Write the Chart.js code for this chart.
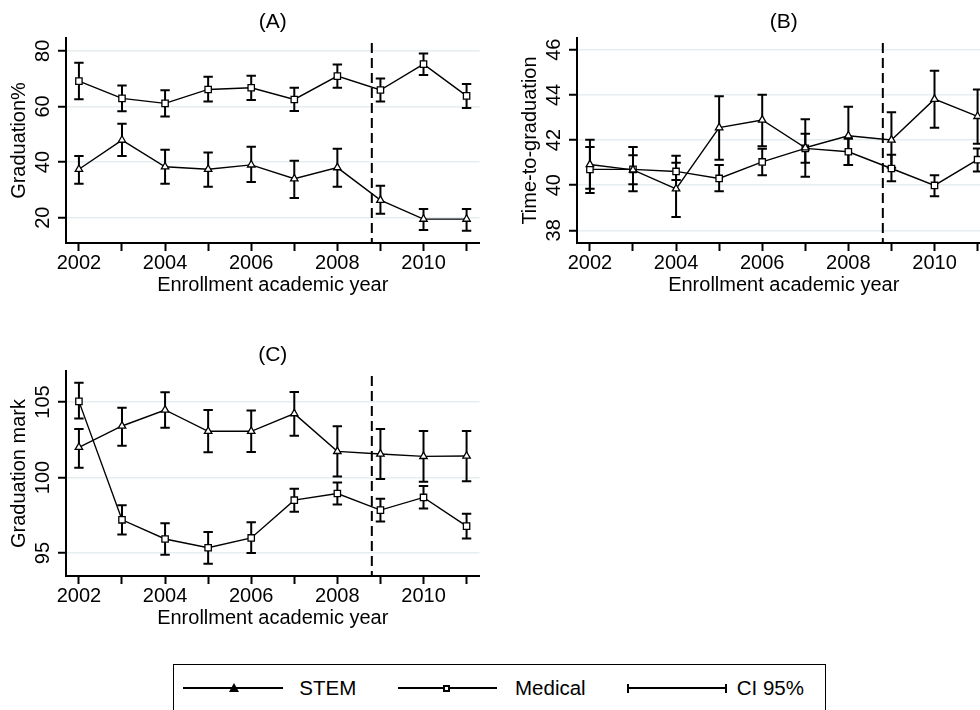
<!DOCTYPE html>
<html>
<head>
<meta charset="utf-8">
<script src="https://cdn.jsdelivr.net/npm/chart.js@4"></script>
<style>
  body { margin: 0; background: #fff; overflow: hidden; }
  #page { position: relative; width: 980px; height: 710px; overflow: hidden; background: #fff; }
  #page canvas { position: absolute; }
  .lg { position: absolute; }
  .lg-box { left: 172.7px; top: 664px; width: 653px; height: 60px; border: 1px solid #000; box-sizing: border-box; }
  .lg-line { height: 2px; top: 687.3px; background: #000; }
  .lg-text { font: 20.5px "Liberation Sans", Arial, sans-serif; line-height: 20.5px; top: 678px; color: #000; white-space: nowrap; }
</style>
</head>
<body>
<div id="page">
  <canvas id="panelA" width="490" height="300" style="left:0;top:0"></canvas>
  <canvas id="panelB" width="490" height="300" style="left:511px;top:0"></canvas>
  <canvas id="panelC" width="490" height="300" style="left:0;top:333px"></canvas>

  <div class="lg lg-box"></div>
  <div class="lg lg-line" style="left:182.7px;width:100px"></div>
  <div class="lg" style="left:228.5px;top:683.3px;width:0;height:0;border-left:5.5px solid transparent;border-right:5.5px solid transparent;border-bottom:9px solid #000"></div>
  <div class="lg lg-text" style="left:299.3px">STEM</div>
  <div class="lg lg-line" style="left:398.3px;width:99px"></div>
  <div class="lg" style="left:442.5px;top:684.8px;width:7px;height:7px;border:2px solid #000;background:#fff;box-sizing:border-box"></div>
  <div class="lg lg-text" style="left:515px">Medical</div>
  <div class="lg lg-line" style="left:626.7px;width:100px"></div>
  <div class="lg" style="left:626.7px;top:683.8px;width:2px;height:9px;background:#000"></div>
  <div class="lg" style="left:724.7px;top:683.8px;width:2px;height:9px;background:#000"></div>
  <div class="lg lg-text" style="left:736.7px">CI 95%</div>
</div>

<script>
// enrollment years and the reform cut-off
const years = [2002, 2003, 2004, 2005, 2006, 2007, 2008, 2009, 2010, 2011];
const cutoff = 2008.8;

// (A) graduation %
const gradStem   = [37.4, 47.9, 38.3, 37.4, 39.0, 34.0, 38.0, 26.3, 19.5, 19.5];
const gradStemLo = [32.2, 42.2, 32.2, 31.1, 32.8, 27.1, 31.1, 21.4, 15.6, 15.3];
const gradStemHi = [42.2, 53.8, 44.4, 43.4, 45.5, 40.5, 44.8, 31.5, 23.1, 23.1];
const gradMed    = [69.1, 62.9, 61.1, 66.1, 66.7, 62.5, 70.9, 65.9, 75.2, 63.8];
const gradMedLo  = [62.6, 58.3, 56.4, 61.8, 62.3, 58.4, 66.7, 61.8, 71.3, 59.4];
const gradMedHi  = [75.7, 67.5, 65.8, 70.7, 71.0, 66.7, 75.1, 70.0, 79.0, 68.1];

// (B) time-to-graduation
const timeStem   = [40.92, 40.68, 39.84, 42.55, 42.89, 41.66, 42.19, 42.00, 43.81, 43.05];
const timeStemLo = [39.66, 39.73, 38.59, 41.13, 41.72, 40.37, 40.89, 40.77, 42.55, 41.84];
const timeStemHi = [42.01, 41.69, 41.30, 43.94, 44.01, 42.92, 43.48, 43.23, 45.07, 44.24];
const timeMed    = [40.70, 40.70, 40.61, 40.30, 41.03, 41.63, 41.48, 40.74, 39.99, 41.13];
const timeMedLo  = [39.84, 40.04, 40.23, 39.73, 40.44, 40.99, 40.89, 40.18, 39.51, 40.61];
const timeMedHi  = [41.69, 41.33, 40.99, 40.89, 41.61, 42.28, 42.06, 41.35, 40.44, 41.63];

// (C) graduation mark
const markStem   = [102.00, 103.41, 104.47, 103.06, 103.06, 104.23, 101.73, 101.56, 101.40, 101.42];
const markStemLo = [100.65, 102.11, 103.30, 101.67, 101.69, 102.77, 100.06, 99.90, 99.72, 99.75];
const markStemHi = [103.21, 104.62, 105.64, 104.47, 104.43, 105.66, 103.39, 103.21, 103.08, 103.08];
const markMed    = [105.04, 97.20, 95.93, 95.35, 96.00, 98.50, 98.94, 97.84, 98.68, 96.78];
const markMedLo  = [103.90, 96.23, 94.89, 94.29, 95.00, 97.73, 98.21, 97.09, 97.95, 95.97];
const markMedHi  = [106.28, 98.17, 96.98, 96.39, 97.04, 99.25, 99.67, 98.59, 99.43, 97.60];

const fontFamily = '"Liberation Sans", Arial, sans-serif';
const gridColor = '#e6edf0';

// CI bars, dashed cut-off line, panel title and the rotated y tick labels (Stata style)
const ciPlugin = {
    id: 'ciBars',
    beforeDatasetsDraw(chart, args, opts) {
        const ctx = chart.ctx;
        const xs = chart.scales.x, ys = chart.scales.y, area = chart.chartArea;
        ctx.save();
        ctx.strokeStyle = '#000';
        ctx.lineWidth = 2;
        ctx.setLineDash([10, 5]);
        const cx = xs.getPixelForValue(cutoff);
        ctx.beginPath();
        ctx.moveTo(cx, area.top + 5);
        ctx.lineTo(cx, area.bottom);
        ctx.stroke();
        ctx.setLineDash([]);
        opts.bars.forEach(b => {
            years.forEach((yr, i) => {
                const px = xs.getPixelForValue(yr);
                const lo = ys.getPixelForValue(b.lo[i]);
                const hi = ys.getPixelForValue(b.hi[i]);
                ctx.beginPath();
                ctx.moveTo(px, lo); ctx.lineTo(px, hi);
                ctx.moveTo(px - 4.7, lo); ctx.lineTo(px + 4.7, lo);
                ctx.moveTo(px - 4.7, hi); ctx.lineTo(px + 4.7, hi);
                ctx.stroke();
            });
        });
        ctx.restore();
    },
    afterDraw(chart, args, opts) {
        const ctx = chart.ctx, ys = chart.scales.y, area = chart.chartArea;
        ctx.save();
        ctx.fillStyle = '#000';
        ctx.textAlign = 'center';
        ctx.textBaseline = 'middle';
        ctx.font = '21px ' + fontFamily;
        ctx.fillText(opts.title, (area.left + area.right) / 2, 22.5);
        ctx.font = '20px ' + fontFamily;
        ys.ticks.forEach(t => {
            ctx.save();
            ctx.translate(area.left - 22.7, ys.getPixelForValue(t.value));
            ctx.rotate(-Math.PI / 2);
            ctx.fillText(String(t.value), 0, 0);
            ctx.restore();
        });
        ctx.restore();
    }
};

function points(vals) {
    return years.map((yr, i) => ({ x: yr, y: vals[i] }));
}

function drawPanel(id, title, yTitle, yMin, yMax, yStep, stem, stemLo, stemHi, med, medLo, medHi) {
    return new Chart(document.getElementById(id), {
        type: 'scatter',
        data: {
            datasets: [
                {
                    label: 'STEM',
                    data: points(stem),
                    showLine: true,
                    borderColor: '#000',
                    borderWidth: 1.4,
                    pointStyle: 'triangle',
                    pointRadius: 4.3,
                    pointBorderWidth: 1.3,
                    pointBorderColor: '#000',
                    pointBackgroundColor: '#fff'
                },
                {
                    label: 'Medical',
                    data: points(med),
                    showLine: true,
                    borderColor: '#000',
                    borderWidth: 1.4,
                    pointStyle: 'rect',
                    pointRadius: 4.5,
                    pointBorderWidth: 1.3,
                    pointBorderColor: '#000',
                    pointBackgroundColor: '#fff'
                }
            ]
        },
        options: {
            responsive: false,
            animation: false,
            devicePixelRatio: 1,
            events: [],
            layout: { padding: { left: 0, right: 10.5, top: 38, bottom: 0 } },
            plugins: {
                legend: { display: false },
                tooltip: { enabled: false },
                title: { display: false },
                ciBars: {
                    title: title,
                    bars: [{ lo: stemLo, hi: stemHi }, { lo: medLo, hi: medHi }]
                }
            },
            scales: {
                x: {
                    type: 'linear',
                    min: 2001.7,
                    max: 2011.3,
                    afterFit: s => { s.height = 57; },
                    grid: { drawOnChartArea: false, drawTicks: true, tickLength: 8, tickWidth: 2, tickColor: '#000' },
                    border: { color: '#000', width: 2 },
                    ticks: {
                        stepSize: 1,
                        includeBounds: false,
                        autoSkip: false,
                        maxRotation: 0,
                        padding: 0,
                        color: '#000',
                        font: { family: fontFamily, size: 20 },
                        callback: v => (v % 2 === 0 ? String(v) : '')
                    },
                    title: {
                        display: true,
                        text: 'Enrollment academic year',
                        color: '#000',
                        font: { family: fontFamily, size: 20 },
                        padding: { top: 0, bottom: 3 }
                    }
                },
                y: {
                    type: 'linear',
                    min: yMin,
                    max: yMax,
                    afterFit: s => { s.width = 66; },
                    grid: { color: gridColor, lineWidth: 1.5, tickLength: 8, tickWidth: 2, tickColor: '#000' },
                    border: { color: '#000', width: 2 },
                    ticks: { stepSize: yStep, includeBounds: false, display: false },
                    title: {
                        display: true,
                        text: yTitle,
                        color: '#000',
                        font: { family: fontFamily, size: 20 },
                        padding: { top: 7, bottom: 0 }
                    }
                }
            }
        },
        plugins: [ciPlugin]
    });
}

drawPanel('panelA', '(A)', 'Graduation%', 10.9, 84.6, 20,
    gradStem, gradStemLo, gradStemHi, gradMed, gradMedLo, gradMedHi);
drawPanel('panelB', '(B)', 'Time-to-graduation', 37.44, 46.52, 2,
    timeStem, timeStemLo, timeStemHi, timeMed, timeMedLo, timeMedHi);
drawPanel('panelC', '(C)', 'Graduation mark', 93.48, 107.05, 5,
    markStem, markStemLo, markStemHi, markMed, markMedLo, markMedHi);
</script>
</body>
</html>
